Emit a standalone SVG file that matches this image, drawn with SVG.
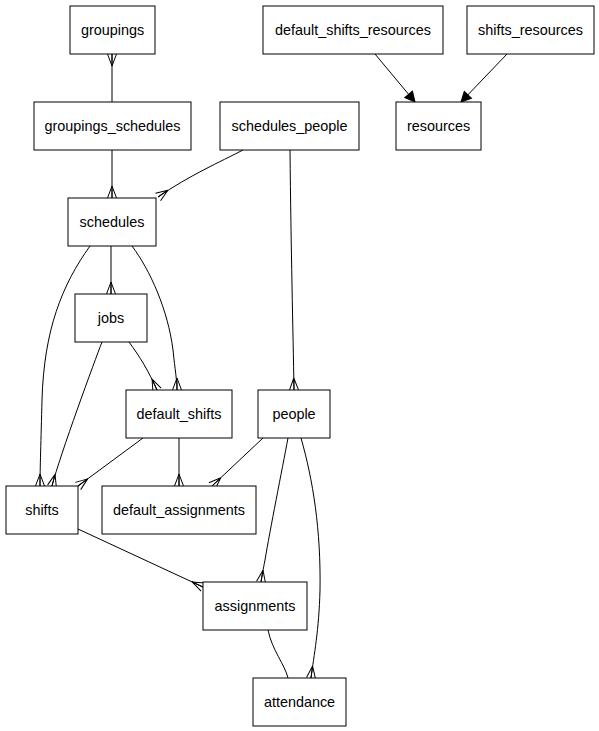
<svg xmlns="http://www.w3.org/2000/svg" width="599" height="731" viewBox="0 0 599 731">
<style>
.n rect{fill:#fff;stroke:#000;stroke-width:1}
.n text{font-family:"Liberation Sans",Arial,sans-serif;font-size:14.4px;text-anchor:middle;fill:#000}
#edges path{fill:none;stroke:#000;stroke-width:1}
.c{marker-end:url(#crow)}
.a{marker-end:url(#arr)}
</style>
<defs>
<marker id="crow" markerUnits="userSpaceOnUse" markerWidth="16" markerHeight="12" viewBox="-13 -6 14 12" refX="0" refY="0" orient="auto" overflow="visible">
<path d="M-12,0 L0,-4.5 M-12,0 L0,4.5 M-12,0 L0,0" fill="none" stroke="#000" stroke-width="1"/>
</marker>
<marker id="arr" markerUnits="userSpaceOnUse" markerWidth="12" markerHeight="12" viewBox="-11 -6 12 12" refX="0" refY="0" orient="auto" overflow="visible">
<path d="M-10,-5 L0,0 L-10,5 Z" fill="#000" stroke="#000" stroke-width="1"/>
</marker>
</defs>
<g id="edges">
<path class="c" d="M112,102 L112,54"/>
<path class="c" d="M112,150 L112,198"/>
<path class="c" d="M243,150 C220,162 190,175 158,197"/>
<path class="c" d="M290,150 C291,250 293,330 294,390"/>
<path class="a" d="M375,54 L415,102"/>
<path class="a" d="M507,54 L461,102"/>
<path class="c" d="M111,246 L111,294"/>
<path class="c" d="M132,246 C150,270 168,310 173,350 C175,370 177,380 177,390"/>
<path class="c" d="M90,246 C62,285 44,330 42,400 C41,440 40,470 40,486"/>
<path class="c" d="M102,342 C95,360 60,455 52,486"/>
<path class="c" d="M129,342 C140,357 148,370 157,390"/>
<path class="c" d="M143,438 L78,486"/>
<path class="c" d="M179,438 L179,486"/>
<path class="c" d="M263,438 L212,486"/>
<path class="c" d="M78,529 L203,587"/>
<path class="c" d="M288,438 C282,470 270,530 265,560 C263,570 262,576 261,582"/>
<path class="c" d="M301,438 C313,480 321,530 320,590 C319,630 314,655 311,678"/>
<path d="M268,630 C272,650 285,665 288,678"/>
</g>
<g id="groupings" class="n"><rect x="70" y="6" width="85" height="48"/><text x="112.5" y="35">groupings</text></g>
<g id="default_shifts_resources" class="n"><rect x="263" y="6" width="180" height="48"/><text x="353" y="35">default_shifts_resources</text></g>
<g id="shifts_resources" class="n"><rect x="467" y="6" width="127" height="48"/><text x="530.5" y="35">shifts_resources</text></g>
<g id="groupings_schedules" class="n"><rect x="34" y="102" width="157" height="48"/><text x="112.5" y="131">groupings_schedules</text></g>
<g id="schedules_people" class="n"><rect x="220" y="102" width="139" height="48"/><text x="289.5" y="131">schedules_people</text></g>
<g id="resources" class="n"><rect x="396" y="102" width="85" height="48"/><text x="438.5" y="131">resources</text></g>
<g id="schedules" class="n"><rect x="68" y="198" width="88" height="48"/><text x="112" y="227">schedules</text></g>
<g id="jobs" class="n"><rect x="75" y="294" width="72" height="48"/><text x="111" y="323">jobs</text></g>
<g id="default_shifts" class="n"><rect x="126" y="390" width="106" height="48"/><text x="179" y="419">default_shifts</text></g>
<g id="people" class="n"><rect x="258" y="390" width="72" height="48"/><text x="294" y="419">people</text></g>
<g id="shifts" class="n"><rect x="6" y="486" width="72" height="48"/><text x="42" y="515">shifts</text></g>
<g id="default_assignments" class="n"><rect x="102" y="486" width="154" height="48"/><text x="179" y="515">default_assignments</text></g>
<g id="assignments" class="n"><rect x="203" y="582" width="104" height="48"/><text x="255" y="611">assignments</text></g>
<g id="attendance" class="n"><rect x="253" y="678" width="93" height="48"/><text x="299.5" y="707">attendance</text></g>
</svg>
